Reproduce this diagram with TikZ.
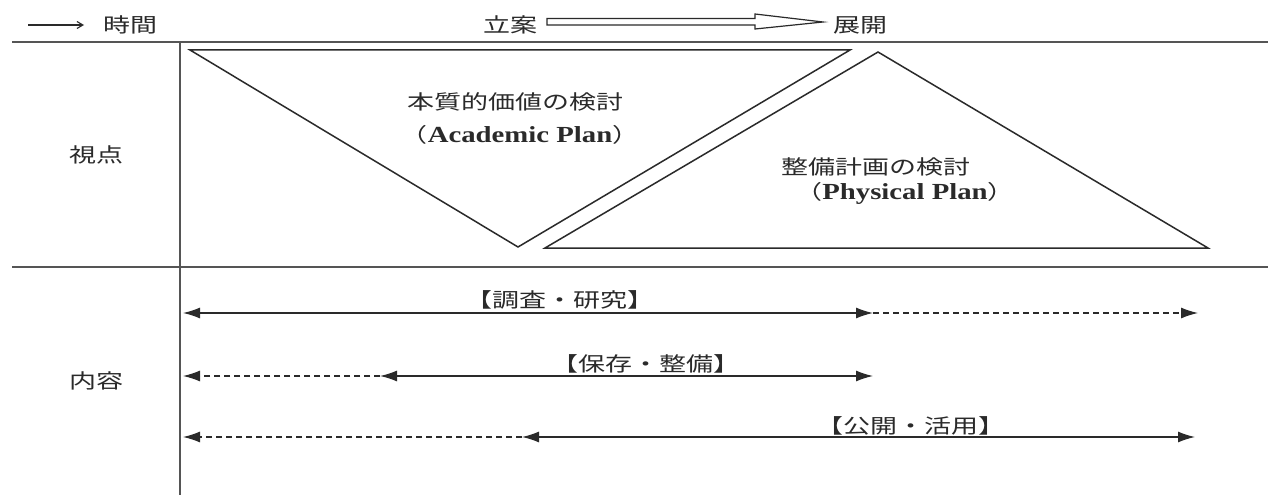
\documentclass[tikz,border=0pt]{standalone}
\usepackage{fontspec}
\usetikzlibrary{arrows.meta}
\newfontfamily\jp{Noto Sans CJK JP}[FakeStretch=1.35]
\newfontfamily\lat{Liberation Serif}[FakeStretch=1.25]
\definecolor{ink}{HTML}{2A2A2A}
\definecolor{rule}{HTML}{555555}
\tikzset{
  jtext/.style={inner sep=0pt, text=ink, font=\jp\fontsize{20}{22}\selectfont},
  ltext/.style={inner sep=0pt, text=ink, font=\jp\fontsize{20}{22}\selectfont},
  rulelin/.style={draw=rule, line width=1.6pt},
  tri/.style={draw=ink, line width=1.5pt, line join=miter},
  solidarr/.style={draw=ink, line width=1.3pt, {Latex[length=17pt,width=11pt]}-{Latex[length=17pt,width=11pt]}},
  dashr/.style={draw=ink, line width=1.2pt, dash pattern=on 6pt off 4pt, -{Latex[length=17pt,width=11pt]}},
}
\newcommand{\latx}[1]{{\lat\bfseries\fontsize{23}{25}\selectfont #1}}
\begin{document}
\begin{tikzpicture}[x=1pt,y=-1pt]
\useasboundingbox (0,0) rectangle (1268,495);
\fill[white] (0,0) rectangle (1268,495);
% rules
\coordinate (t0) at (12,42); \coordinate (t1) at (1268,42);
\coordinate (m0) at (12,267); \coordinate (m1) at (1268,267);
\coordinate (v0) at (180,42); \coordinate (v1) at (180,495);
\draw[rulelin] (t0) -- (t1);
\draw[rulelin] (m0) -- (m1);
\draw[rulelin] (v0) -- (v1);
% header
\coordinate (sa0) at (28,25); \coordinate (sa1) at (84,25);
\draw[draw=ink, line width=1.1pt, -{Straight Barb[length=6pt,width=7pt]}] (sa0) -- (sa1);
\node[jtext] (jikan) at (130,25) {時間};
\node[jtext] (ritsuan) at (510,25) {立案};
\node[jtext] (tenkai) at (860,25) {展開};
\draw[draw=ink, line width=1.2pt, line join=miter, fill=white]
  (547,18.5) -- (755,18.5) -- (755,14) -- (823,22) -- (755,29) -- (755,25) -- (547,25) -- cycle;
% triangles
\draw[tri] (190,50) -- (850,50) -- (518,247) -- cycle;
\draw[tri] (878,52) -- (1208,248) -- (545,248) -- cycle;
\node[jtext] (honshitsu) at (515,102) {本質的価値の検討};
\node[ltext] (acad) at (520,135) {（\latx{Academic Plan}）};
\node[jtext] (seibi) at (876,167) {整備計画の検討};
\node[ltext] (phys) at (905,193) {（\latx{Physical Plan}）};
\node[jtext] (shiten) at (96,155) {視点};
\node[jtext] (naiyou) at (96,381) {内容};
% rows
\node[jtext] (lab1) at (560,300) {【調査・研究】};
\node[jtext] (lab2) at (646,364) {【保存・整備】};
\node[jtext] (lab3) at (911,426) {【公開・活用】};
\coordinate (a1l) at (183,313); \coordinate (a1m) at (873,313); \coordinate (a1r) at (1198,313);
\coordinate (a2l) at (183,376); \coordinate (a2m) at (380,376); \coordinate (a2r) at (873,376);
\coordinate (a3l) at (183,437); \coordinate (a3m) at (522,437); \coordinate (a3r) at (1195,437);
\draw[solidarr] (a1l) -- (a1m);
\draw[dashr] (a1m) -- (a1r);
\draw[solidarr] (a2m) -- (a2r);
\draw[dashr] (a2m) -- (a2l);
\draw[solidarr] (a3m) -- (a3r);
\draw[dashr] (a3m) -- (a3l);
\end{tikzpicture}
\end{document}
